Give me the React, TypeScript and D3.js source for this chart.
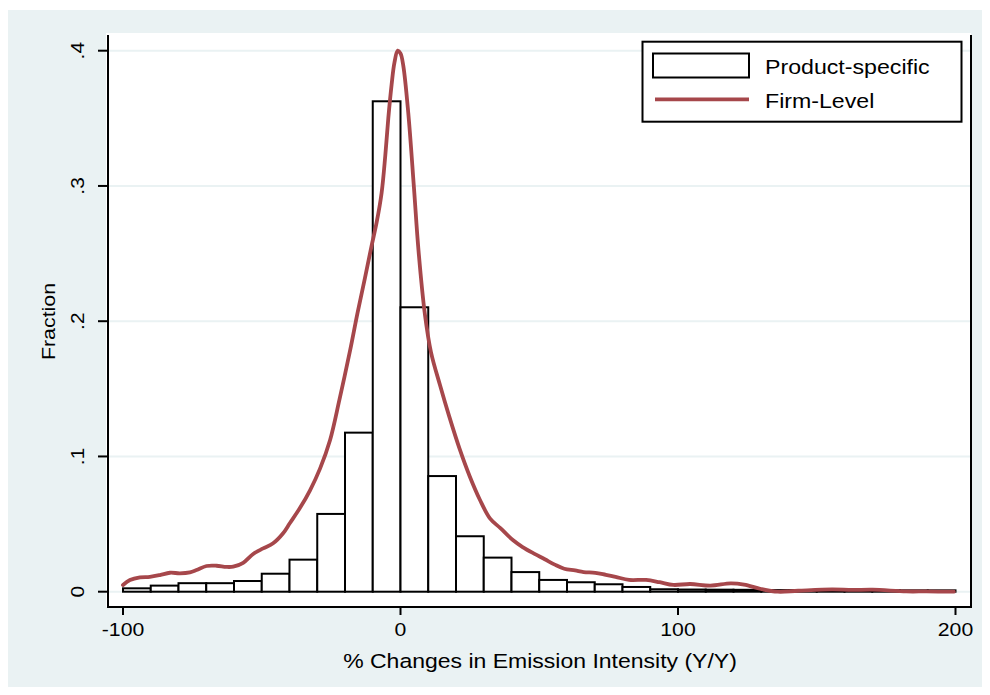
import React from "react";
import * as d3 from "d3";

const binLefts = [-100, -90, -80, -70, -60, -50, -40, -30, -20, -10, 0, 10, 20, 30, 40, 50, 60, 70, 80, 90, 100, 110, 120, 130, 140, 150, 160, 170, 180, 190];
const binFractions = [0.0025, 0.0045, 0.0063, 0.0063, 0.0079, 0.0133, 0.0237, 0.0575, 0.1176, 0.3626, 0.2103, 0.0855, 0.041, 0.0252, 0.0145, 0.0087, 0.007, 0.0055, 0.0035, 0.0018, 0.0016, 0.0015, 0.0014, 0.0012, 0.0012, 0.0011, 0.0011, 0.001, 0.001, 0.001];
const binWidth = 10;

const firmX = [-100, -97.5, -93.9, -90.3, -86.7, -83.1, -79.5, -75.9, -73.5, -69.9, -66.3, -62.7, -60.3, -56.7, -53.1, -49.5, -45.9, -42.3, -39.9, -36.2, -32.6, -29, -25.4, -22, -18.2, -15.5, -12.8, -10.5, -8.6, -6.8, -5.5, -4.4, -3.2, -2.2, -1, 0, 1, 2.8, 4.8, 6.5, 8.8, 11, 14.2, 17.5, 21.4, 25, 28.6, 32.3, 36, 40.6, 44, 48.3, 52, 55.6, 59, 62.9, 66, 70.2, 74, 77.5, 82.4, 88.5, 93.4, 98.3, 104.4, 111.7, 119, 123.8, 129.9, 136, 143.3, 155.5, 162.8, 170.1, 182.3, 189.6, 199.4];
const firmY = [0.005, 0.0086, 0.0106, 0.011, 0.0123, 0.014, 0.0136, 0.0143, 0.016, 0.019, 0.0192, 0.0183, 0.0185, 0.0214, 0.0279, 0.032, 0.0358, 0.0432, 0.0506, 0.062, 0.075, 0.091, 0.112, 0.142, 0.178, 0.206, 0.232, 0.255, 0.273, 0.295, 0.322, 0.35, 0.375, 0.391, 0.4, 0.398, 0.389, 0.354, 0.3, 0.252, 0.205, 0.177, 0.153, 0.13, 0.105, 0.085, 0.068, 0.054, 0.047, 0.038, 0.033, 0.028, 0.024, 0.02, 0.017, 0.0157, 0.0145, 0.014, 0.0125, 0.011, 0.0087, 0.0087, 0.007, 0.005, 0.0057, 0.0045, 0.0062, 0.0053, 0.002, 0.0, 0.0007, 0.0017, 0.0013, 0.0015, 0.0002, 0.0002, 0.0];

const xTicks = [-100, 0, 100, 200];
const yTicks = [0, 0.1, 0.2, 0.3, 0.4];
const yTickLabels = ["0", ".1", ".2", ".3", ".4"];
const xTitle = "% Changes in Emission Intensity (Y/Y)";
const yTitle = "Fraction";
const legendLabels = ["Product-specific", "Firm-Level"];

const FONT = "'Liberation Sans', Arial, Helvetica, sans-serif";
const BG = "#EAF2F3";
const CURVE = "#A6474B";

export default function App() {
  const x = d3.scaleLinear().domain([-100, 200]).range([123, 955.5]);
  const y = d3.scaleLinear().domain([0, 0.4]).range([591.7, 50.7]);
  const plotL = 108, plotR = 971, plotT = 33, plotB = 607;

  const line = d3
    .line<number>()
    .x((_, i) => x(firmX[i]))
    .y((d) => y(d))
    .curve(d3.curveCatmullRom.alpha(0.5));

  return (
    <svg width={982} height={687} style={{ display: "block", position: "absolute", left: 0, top: 0 }}>
      <rect x={8} y={10} width={982} height={685} fill={BG} />
      <rect x={106} y={plotT} width={plotR - 106} height={plotB - plotT} fill="#fff" />
      {yTicks.map((t) => (
        <line key={"g" + t} x1={plotL} x2={plotR} y1={y(t)} y2={y(t)} stroke={BG} strokeWidth={2} />
      ))}
      {binLefts.map((b, i) => (
        <rect
          key={"b" + b}
          x={x(b)}
          y={y(binFractions[i])}
          width={x(b + binWidth) - x(b)}
          height={y(0) - y(binFractions[i])}
          fill="#fff"
          stroke="#000"
          strokeWidth={2}
        />
      ))}
      <path d={line(firmY) || ""} fill="none" stroke={CURVE} strokeWidth={3.8} strokeLinejoin="round" strokeLinecap="round" />
      {/* frame */}
      <line x1={plotL} x2={plotL} y1={35} y2={plotB + 1} stroke="#000" strokeWidth={2} />
      <line x1={plotR} x2={plotR} y1={35} y2={plotB + 1} stroke="#000" strokeWidth={2} />
      <line x1={plotL - 1} x2={plotR + 1} y1={plotB} y2={plotB} stroke="#000" strokeWidth={2} />
      {/* x ticks */}
      {xTicks.map((t) => (
        <g key={"xt" + t}>
          <line x1={x(t)} x2={x(t)} y1={plotB} y2={615} stroke="#000" strokeWidth={2} />
          <g transform={`translate(${x(t)},636) scale(1.2,1)`}>
            <text textAnchor="middle" fontFamily={FONT} fontSize={17.7} fill="#000">
              {t}
            </text>
          </g>
        </g>
      ))}
      {/* y ticks */}
      {yTicks.map((t, i) => (
        <g key={"yt" + t}>
          <line x1={98} x2={plotL} y1={y(t)} y2={y(t)} stroke="#000" strokeWidth={2} />
          <g transform={`translate(83.5,${y(t)}) rotate(-90) scale(1.18,1)`}>
            <text textAnchor="middle" fontFamily={FONT} fontSize={17.7} fill="#000">
              {yTickLabels[i]}
            </text>
          </g>
        </g>
      ))}
      {/* axis titles */}
      <g transform={`translate(540,668) scale(1.18,1)`}>
        <text textAnchor="middle" fontFamily={FONT} fontSize={19.5} fill="#000">
          {xTitle}
        </text>
      </g>
      <g transform={`translate(55,321.5) rotate(-90) scale(1.15,1)`}>
        <text textAnchor="middle" fontFamily={FONT} fontSize={18.6} fill="#000">
          {yTitle}
        </text>
      </g>
      {/* legend */}
      <rect x={642.5} y={41.7} width={319} height={80} fill="#fff" stroke="#000" strokeWidth={2} />
      <rect x={653} y={53.5} width={96} height={24} fill="#fff" stroke="#000" strokeWidth={2} />
      <line x1={655} x2={749} y1={99.3} y2={99.3} stroke={CURVE} strokeWidth={3.8} />
      <g transform="translate(765,73.5) scale(1.13,1)">
        <text fontFamily={FONT} fontSize={20.5} fill="#000">{legendLabels[0]}</text>
      </g>
      <g transform="translate(765,107.5) scale(1.13,1)">
        <text fontFamily={FONT} fontSize={20.5} fill="#000">{legendLabels[1]}</text>
      </g>
    </svg>
  );
}
